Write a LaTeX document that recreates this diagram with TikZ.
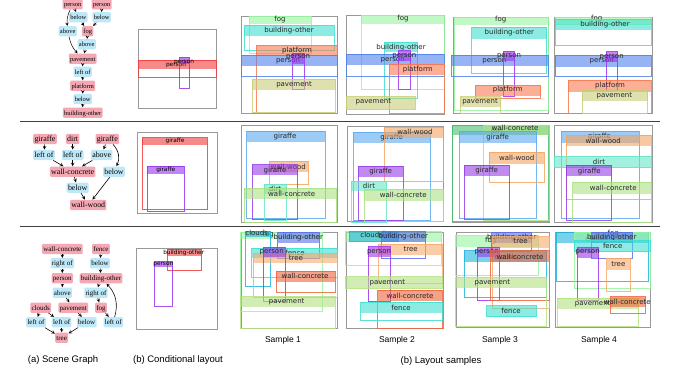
\documentclass[tikz,border=0pt]{standalone}
\usepackage{fontspec}
\newfontfamily\sgfont{Liberation Serif}
\newfontfamily\lbfont{DejaVu Sans}
\newfontfamily\capfont{Liberation Sans}

\definecolor{sgpink}{RGB}{244,168,180}
\definecolor{sgblue}{RGB}{190,232,248}
\definecolor{cfog}{RGB}{150,245,160}
\definecolor{cbo}{RGB}{64,224,208}
\definecolor{cplat}{RGB}{250,120,80}
\definecolor{cperb}{RGB}{80,130,235}
\definecolor{cperp}{RGB}{160,50,240}
\definecolor{cpave}{RGB}{200,205,120}
\definecolor{cgirb}{RGB}{90,170,240}
\definecolor{cgirp}{RGB}{150,60,230}
\definecolor{cww}{RGB}{244,164,96}
\definecolor{cdirt}{RGB}{100,230,200}
\definecolor{cdirtg}{RGB}{70,190,110}
\definecolor{cwc}{RGB}{170,225,130}
\definecolor{cclouds}{RGB}{30,180,220}
\definecolor{cbo3}{RGB}{90,110,235}
\definecolor{cfence}{RGB}{64,224,208}
\definecolor{ctree}{RGB}{248,170,110}
\definecolor{cwc3}{RGB}{240,100,60}
\definecolor{cpave3}{RGB}{180,225,130}
\definecolor{cred}{RGB}{240,60,60}
\definecolor{cpurp}{RGB}{150,50,240}

% layout box: x1 y1 x2 y2, header bottom, colour, label x y, label
\newcommand{\lbox}[9]{%
  \fill[#6,fill opacity=0.6] (#1,-#2) rectangle (#3,-#5);
  \draw[#6,draw opacity=0.85,line width=0.8pt] (#1,-#2) rectangle (#3,-#4);
  \node[boxlabel] at (#7,-#8) {#9};}

\begin{document}
\begin{tikzpicture}[x=1pt,y=1pt,>=stealth,
  every node/.style={inner sep=1pt},
  obj/.style={fill=sgpink,rounded corners=1.2pt,inner xsep=1.3pt,inner ysep=0.5pt,
    text height=0.7em,text depth=0.22em},
  rel/.style={obj,fill=sgblue},
  frame/.style={draw=black!40,line width=0.6pt},
  boxlabel/.style={font=\lbfont\fontsize{7}{8}\selectfont,inner sep=0pt,text=black!85},
  sep/.style={draw=black!75,line width=0.8pt}]
  \useasboundingbox (0,0) rectangle (673,-379);

  % scene graphs
  \begin{scope}[font=\sgfont\fontsize{6.5}{7}\selectfont,line width=0.5pt]
  \node[obj] (a1) at (72.7,-4.3) {person};
  \node[obj] (b1) at (101.7,-4.3) {person};
  \node[rel] (c1) at (78.3,-17.3) {below};
  \node[rel] (d1) at (101.7,-17.3) {below};
  \node[rel] (e1) at (67.7,-31.3) {above};
  \node[obj] (f1) at (87.7,-31.3) {fog};
  \node[rel] (g1) at (86.7,-44.3) {above};
  \node[obj] (h1) at (82.7,-58.7) {pavement};
  \node[rel] (i1) at (82.7,-71.7) {left of};
  \node[obj] (j1) at (82.7,-85.7) {platform};
  \node[rel] (k1) at (82.7,-99) {below};
  \node[obj] (l1) at (82.7,-112.7) {building-other};
  \draw[->] (a1)--(c1);
  \draw[->] (c1)--(f1);
  \draw[->] (b1)--(d1);
  \draw[->] (d1)--(f1);
  \draw[->] (a1) to[bend right=15] (e1);
  \draw[->] (e1) to[bend right=15] (h1);
  \draw[->] (f1)--(g1);
  \draw[->] (g1)--(h1);
  \draw[->] (h1)--(i1);
  \draw[->] (i1)--(j1);
  \draw[->] (j1)--(k1);
  \draw[->] (k1)--(l1);
  \end{scope}

  \begin{scope}[font=\sgfont\fontsize{7.9}{9}\selectfont,line width=0.6pt]
  \node[obj] (a2) at (45,-139) {giraffe};
  \node[obj] (b2) at (72.7,-139) {dirt};
  \node[obj] (c2) at (107.3,-139) {giraffe};
  \node[rel] (d2) at (44,-155) {left of};
  \node[rel] (e2) at (72.7,-155) {left of};
  \node[rel] (f2) at (101.7,-155) {above};
  \node[obj] (g2) at (72.7,-171.7) {wall-concrete};
  \node[rel] (h2) at (114,-171.7) {below};
  \node[rel] (i2) at (77.7,-187.7) {below};
  \node[obj] (j2) at (88.3,-205) {wall-wood};
  \draw[->] (a2)--(d2);
  \draw[->] (d2)--(g2);
  \draw[->] (b2)--(e2);
  \draw[->] (e2)--(g2);
  \draw[->] (c2)--(f2);
  \draw[->] (f2)--(g2);
  \draw[->] (c2) to[bend left=35] (h2);
  \draw[->] (g2)--(i2);
  \draw[->] (i2)--(j2);
  \draw[->] (h2)--(j2);
  \end{scope}

  \begin{scope}[font=\sgfont\fontsize{7}{8}\selectfont,line width=0.55pt]
  \node[obj] (a3) at (62.3,-249) {wall-concrete};
  \node[obj] (b3) at (101,-249) {fence};
  \node[rel] (c3) at (62.3,-263.3) {right of};
  \node[rel] (d3) at (100,-263.3) {below};
  \node[obj] (e3) at (62.3,-278.3) {person};
  \node[obj] (f3) at (101,-278.3) {building-other};
  \node[rel] (g3) at (62.3,-292.7) {above};
  \node[rel] (h3) at (96,-292.7) {right of};
  \node[obj] (i3) at (40.7,-307.7) {clouds};
  \node[obj] (j3) at (73.3,-307.7) {pavement};
  \node[obj] (k3) at (101,-307.7) {fog};
  \node[rel] (l3) at (36,-322.3) {left of};
  \node[rel] (m3) at (61.7,-322.3) {left of};
  \node[rel] (n3) at (86.7,-322.3) {below};
  \node[rel] (o3) at (113.3,-322.3) {left of};
  \node[obj] (p3) at (61.7,-337.7) {tree};
  \draw[->] (a3)--(c3);
  \draw[->] (c3)--(e3);
  \draw[->] (e3)--(g3);
  \draw[->] (g3)--(j3);
  \draw[->] (b3)--(d3);
  \draw[->] (d3)--(f3);
  \draw[->] (f3)--(h3);
  \draw[->] (h3)--(k3);
  \draw[->] (k3)--(o3);
  \draw[->] (o3) to[bend right=30] (f3);
  \draw[->] (i3)--(l3);
  \draw[->] (i3)--(m3);
  \draw[->] (l3)--(p3);
  \draw[->] (m3)--(p3);
  \draw[->] (j3)--(n3);
  \draw[->] (n3)--(p3);
  \end{scope}

  % separators
  \draw[sep] (20,-121)--(660,-121);
  \draw[sep] (20,-226)--(660,-226);

  % frames
  \foreach \xa/\ya/\xb/\yb in {138/29/216/108,241/16/337/113,346/15/444/114,
    453/17/548/113,554/17/652/113,137/132/217/213,241/125/337/222,347/126/443/221,
    452/125/549/222,554/125/652/222,136/248/217/329,241/232/337/328,
    346/232/443/328,456/232/549/327,555/232/650/327}
    \draw[frame] (\xa,-\ya) rectangle (\xb,-\yb);

  % conditional layouts
  \begin{scope}[boxlabel/.style={font=\lbfont\fontsize{5.8}{7}\selectfont,inner sep=0pt}]
  \lbox{138}{60}{216}{77}{69.3}{cred}{176}{65}{person}
  \lbox{179.3}{57.3}{189.3}{88.3}{64}{cpurp}{184}{62.3}{person}
  \lbox{142.3}{137.7}{207.3}{209.3}{145}{cred}{175}{141.3}{giraffe}
  \lbox{147.3}{166}{184.3}{211.7}{174.3}{cpurp}{165.7}{170}{giraffe}
  \lbox{167.3}{249.3}{201.7}{270.7}{256}{cred}{183.7}{252.7}{building-other}
  \lbox{154.3}{261.7}{172.3}{306.7}{267.3}{cpurp}{163.3}{264}{person}
  \end{scope}

  % samples, row 1
  \lbox{249}{16.5}{311}{53}{24}{cfog}{280}{19.5}{fog}
  \lbox{244}{25}{334}{50}{36.5}{cbo}{289}{31}{building-other}
  \lbox{256}{45}{337}{113}{56}{cplat}{297}{50.5}{platform}
  \lbox{241}{55}{337}{76}{66}{cperb}{288}{61}{person}
  \lbox{292}{53.3}{304}{89.3}{64}{cperp}{298}{57.5}{person}
  \lbox{252.3}{79}{335.7}{112.3}{90}{cpave}{294}{84.5}{pavement}

  \lbox{361}{15.5}{444}{89.3}{24}{cfog}{403}{18.5}{fog}
  \lbox{384.3}{42.3}{417.7}{98.3}{52.5}{cbo}{401}{47.5}{building-other}
  \lbox{346}{54.3}{444}{76}{65.3}{cperb}{392.7}{60.5}{person}
  \lbox{398.3}{50.7}{410.7}{89.3}{61}{cperp}{404.3}{56}{person}
  \lbox{389.3}{64.3}{444}{113.3}{75.3}{cplat}{417.7}{69.5}{platform}
  \lbox{346}{96.7}{415}{109.3}{109.3}{cpave}{373.3}{102}{pavement}

  \lbox{454}{17}{548}{110}{25}{cfog}{500.7}{20}{fog}
  \lbox{471.7}{27.3}{546.7}{73.3}{39}{cbo}{509.3}{32.7}{building-other}
  \lbox{451}{55}{548}{76}{66}{cperb}{494.3}{61}{person}
  \lbox{503.3}{51}{514.3}{96.7}{61.5}{cperp}{509}{56.7}{person}
  \lbox{475}{85}{540.7}{98.3}{96}{cplat}{507.7}{90}{platform}
  \lbox{460}{96.7}{500.7}{113}{107}{cpave}{480}{101.7}{pavement}

  \lbox{555}{17.3}{651}{24}{24}{cfog}{596.7}{18.5}{fog}
  \lbox{555}{19}{651}{45}{30.5}{cbo}{605}{24.7}{building-other}
  \lbox{555}{55}{651}{76}{66.7}{cperb}{601.7}{61}{person}
  \lbox{606}{51.7}{617.3}{90}{62}{cperp}{611.7}{57.3}{person}
  \lbox{568.3}{80}{651}{113}{91.7}{cplat}{610}{86}{platform}
  \lbox{582.3}{90}{647.7}{113}{100.7}{cpave}{614.3}{95.3}{pavement}

  % samples, row 2
  \lbox{246.7}{131}{325}{218}{142}{cgirb}{285}{136.5}{giraffe}
  \lbox{269}{161.3}{308.3}{184.7}{172}{cww}{288.3}{166.5}{wall-wood}
  \lbox{252.3}{164.7}{297.7}{219.3}{175.3}{cgirp}{275}{170.5}{giraffe}
  \lbox{264.3}{184.3}{286.7}{220.3}{194}{cdirt}{275}{188.7}{dirt}
  \lbox{244.3}{188}{336.7}{222}{199.3}{cwc}{291.7}{193.7}{wall-concrete}

  \lbox{353.3}{132}{430.7}{220.3}{143}{cgirb}{391.7}{137.5}{giraffe}
  \lbox{384.3}{127}{443.3}{181.3}{137.7}{cww}{415}{132}{wall-wood}
  \lbox{358.3}{166.3}{403.3}{220.3}{177}{cgirp}{380.7}{172}{giraffe}
  \lbox{351}{181}{386.7}{222}{191.3}{cdirt}{369}{186}{dirt}
  \lbox{364.3}{189.3}{443.3}{221.3}{201}{cwc}{403.3}{195}{wall-concrete}

  \lbox{452}{125.5}{548.7}{221.7}{135}{cdirtg}{497}{131}{dirt}
  \lbox{483.3}{125.3}{549}{220.3}{135}{cwc}{515}{127.5}{wall-concrete}
  \lbox{459}{131.3}{536.7}{218}{142.7}{cgirb}{497.7}{137.5}{giraffe}
  \lbox{489.3}{152}{544.3}{182.7}{163.7}{cww}{516.7}{157.5}{wall-wood}
  \lbox{464.3}{165.3}{509.3}{219.3}{176.3}{cgirp}{486.7}{171}{giraffe}

  \lbox{561}{131.3}{639}{218.7}{142.7}{cgirb}{599.3}{137}{giraffe}
  \lbox{566}{135.3}{651}{199.3}{146.3}{cww}{603.3}{140.5}{wall-wood}
  \lbox{554.3}{156}{651}{167.7}{167.7}{cdirt}{599}{162}{dirt}
  \lbox{566}{165.3}{611.7}{220.3}{176.3}{cgirp}{589.3}{171.3}{giraffe}
  \lbox{572.7}{182}{651}{222}{193.7}{cwc}{613.3}{188}{wall-concrete}

  % samples, row 3
  \lbox{240.7}{232.3}{322.3}{311}{239}{cfog}{268.3}{234.5}{fog}
  \lbox{245.7}{231}{270.7}{286.7}{237}{cclouds}{256.7}{232.5}{clouds}
  \lbox{277.7}{232.3}{319.3}{258.3}{243.3}{cbo3}{298.3}{237.5}{building-other}
  \lbox{251.7}{248.3}{337}{277.7}{258.3}{cfence}{295}{253.3}{fence}
  \lbox{253.3}{253.3}{337}{297.7}{263.3}{ctree}{296}{258.3}{tree}
  \lbox{263.3}{247.3}{285}{301}{256.7}{cperp}{271.7}{252.3}{person}
  \lbox{276}{271}{335}{292.3}{281.7}{cwc3}{305}{276.3}{wall-concrete}
  \lbox{240.7}{296.7}{335}{328}{306.7}{cpave3}{286.7}{301.3}{pavement}

  \lbox{345.7}{231.7}{441.7}{265.7}{241.7}{cfog}{387.7}{235}{fog}
  \lbox{349.3}{231}{398.3}{241}{241}{cclouds}{371.7}{235}{clouds}
  \lbox{381.7}{231.7}{425}{258.3}{241.7}{cbo3}{403.3}{236.7}{building-other}
  \lbox{378.3}{244}{442.3}{283.3}{255}{ctree}{410.7}{249.5}{tree}
  \lbox{368.3}{246.7}{390}{301}{257.3}{cperp}{379}{252.3}{person}
  \lbox{345.7}{276.7}{442.3}{288.3}{288.3}{cpave3}{387.3}{282.3}{pavement}
  \lbox{377.7}{290}{442.3}{328}{301}{cwc3}{410}{295.7}{wall-concrete}
  \lbox{360.7}{302.3}{442.3}{320.7}{313.3}{cfence}{401}{307.7}{fence}

  \lbox{455.7}{235.7}{538.3}{275}{246.7}{cfog}{490.7}{241}{fog}
  \lbox{491.7}{232.3}{531.7}{251}{243}{cbo3}{511.7}{237.7}{building-other}
  \lbox{492.3}{236.7}{549}{308.3}{247.7}{ctree}{520.7}{241}{tree}
  \lbox{464}{250.7}{546.7}{297.3}{261.7}{cclouds}{506}{256.7}{clouds}
  \lbox{477.3}{247.3}{499}{300}{257.3}{cperp}{486.7}{252.3}{person}
  \lbox{490.7}{250.7}{549}{300}{261.7}{cwc3}{520}{256.7}{wall-concrete}
  \lbox{455.7}{277.3}{546}{326.7}{288.3}{cpave3}{492.3}{282.3}{pavement}
  \lbox{486.7}{305.7}{536}{316.7}{316.7}{cfence}{511}{311}{fence}

  \lbox{556}{232.3}{648.3}{281}{243.3}{cclouds}{596.7}{239}{clouds}
  \lbox{574.3}{232.3}{650}{288.3}{240}{cfog}{613.3}{233.5}{fog}
  \lbox{591.7}{232.3}{632.7}{258.3}{243}{cbo3}{611.7}{237.3}{building-other}
  \lbox{574.3}{240}{650}{251.7}{251.7}{cfence}{612.7}{245.7}{fence}
  \lbox{577.3}{247.7}{598.7}{300.7}{258.3}{cperp}{587.7}{252.7}{person}
  \lbox{606.7}{258.3}{630}{291}{270}{ctree}{618.3}{264.3}{tree}
  \lbox{557.7}{298.3}{638.7}{326.7}{309.3}{cpave3}{592.7}{304}{pavement}
  \lbox{610}{296.7}{645.7}{313.3}{306.7}{cwc3}{627.3}{302.3}{wall-concrete}

  % captions
  \begin{scope}[font=\capfont\fontsize{8.5}{10}\selectfont]
  \node (s1) at (283,-340) {Sample 1};
  \node (s2) at (397,-340) {Sample 2};
  \node (s3) at (500,-340) {Sample 3};
  \node (s4) at (599,-340) {Sample 4};
  \end{scope}
  \begin{scope}[font=\capfont\fontsize{9.5}{11}\selectfont]
  \node (ca) at (63,-360) {(a) Scene Graph};
  \node (cb) at (178,-360) {(b) Conditional layout};
  \node (cc) at (441,-361) {(b) Layout samples};
  \end{scope}
\end{tikzpicture}
\end{document}
